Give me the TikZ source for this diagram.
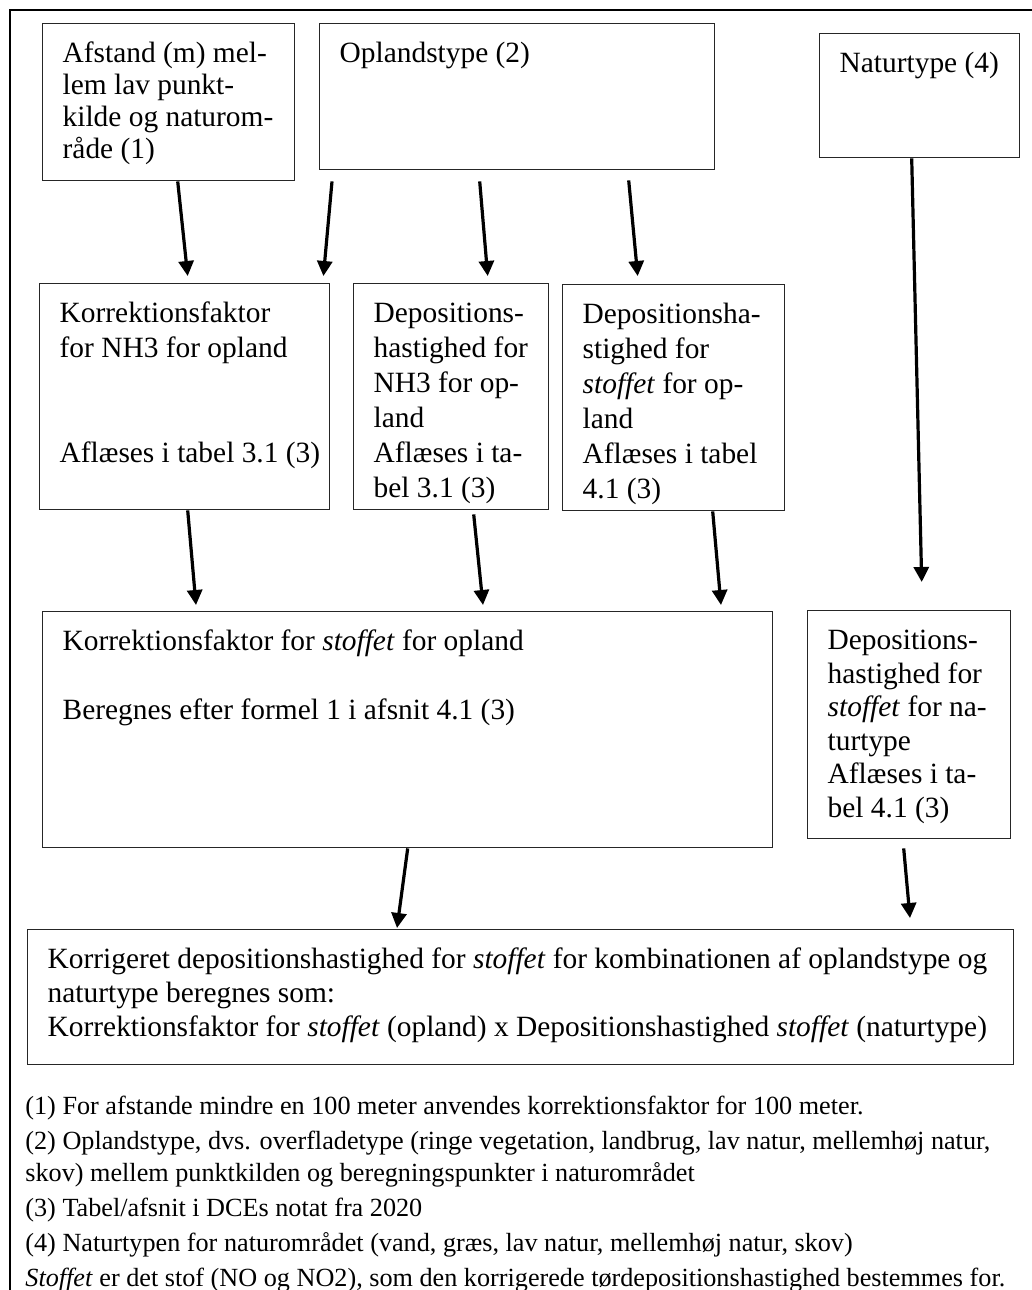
\documentclass[tikz,border=0pt]{standalone}
\usepackage{fontspec}
\setmainfont{Liberation Serif}
\usetikzlibrary{arrows.meta,calc}
\newdimen\px \px=0.5pt
\newcommand\boxtxt[4][17pt]{\parbox[t][#3\px][t]{#2\px}{\leftskip=20\px\rightskip=0pt plus 1fil
 \parfillskip=0pt plus 1fil\parindent=0pt\baselineskip=#1\relax\rule{0pt}{19.5pt}#4}}
\tikzset{flowbox/.style={draw=black!85,line width=0.7pt,inner sep=0pt,anchor=north west,
 font=\fontsize{14.7}{17}\selectfont},flowarrow/.style={line width=1.6pt,
 -{Triangle[length=7.5pt,width=7.5pt]}}}
\begin{document}
\begin{tikzpicture}[x=0.5pt,y=-0.5pt]
\useasboundingbox (0,0) rectangle (1032,1290);
\draw[line width=1pt] (10,10) rectangle (1045,1305);
\node[flowbox] (afst) at (42,23) {\boxtxt[16pt]{252}{157}{Afstand (m) mel-\\lem lav punkt-\\kilde og naturom-\\råde (1)}};
\node[flowbox] (opl) at (319,23) {\boxtxt[16pt]{395}{146}{Oplandstype (2)}};
\node[flowbox] (nat) at (819,33) {\boxtxt[16pt]{200}{124}{Naturtype (4)}};
\node[flowbox] (kfnh) at (39,283) {\boxtxt[17.5pt]{290}{226}{Korrektionsfaktor\\for NH3 for opland\\[2\baselineskip]Aflæses i tabel 3.1 (3)}};
\node[flowbox] (dpnh) at (353,283) {\boxtxt[17.5pt]{195}{226}{Depositions-\\hastighed for\\NH3 for op-\\land\\Aflæses i ta-\\bel 3.1 (3)}};
\node[flowbox] (dpst) at (562,284) {\boxtxt[17.5pt]{222}{226}{Depositionsha-\\stighed for\\\textit{stoffet} for op-\\land\\Aflæses i tabel\\4.1 (3)}};
\node[flowbox] (kfst) at (42,611) {\boxtxt[17.25pt]{730}{236}{Korrektionsfaktor for \textit{stoffet} for opland\\[\baselineskip]Beregnes efter formel 1 i afsnit 4.1 (3)}};
\node[flowbox] (dpnat) at (807,610) {\boxtxt[16.75pt]{203}{228}{Depositions-\\hastighed for\\\textit{stoffet} for na-\\turtype\\Aflæses i ta-\\bel 4.1 (3)}};
\node[flowbox] (res) at (27,929) {\boxtxt{986}{135}{Korrigeret depositionshastighed for \textit{stoffet} for kombinationen af oplandstype og\\naturtype beregnes som:\\Korrektionsfaktor for \textit{stoffet} (opland) x Depositionshastighed \textit{stoffet} (naturtype)}};
\node[anchor=base west,inner sep=0pt,font=\fontsize{13.1}{16}\selectfont] (notes) at (25,1114) {\parbox[t]{1012\px}{\raggedright\parskip=1.5pt
 (1) For afstande mindre en 100 meter anvendes korrektionsfaktor for 100 meter.\par
 (2) Oplandstype, dvs. overfladetype (ringe vegetation, landbrug, lav natur, mellemhøj natur,\\skov) mellem punktkilden og beregningspunkter i naturområdet\par
 (3) Tabel/afsnit i DCEs notat fra 2020\par
 (4) Naturtypen for naturområdet (vand, græs, lav natur, mellemhøj natur, skov)\par
 \textit{Stoffet} er det stof (NO og NO2), som den korrigerede tørdepositionshastighed bestemmes for.}};
\draw[flowarrow] ($(afst.south)+(9,0)$) -- ($(kfnh.north)+(3,-7)$);
\draw[flowarrow] ($(opl.south west)+(13,11)$) -- ($(kfnh.north east)+(-7,-7)$);
\draw[flowarrow] ($(opl.south)+(-37.5,11)$) -- ($(dpnh.north)+(36.5,-7)$);
\draw[flowarrow] ($(opl.south)+(111.5,10)$) -- ($(dpst.north)+(-36,-8)$);
\draw[flowarrow] ($(nat.south)+(-8,0)$) -- ($(dpnat.north)+(12.5,-28)$);
\draw[flowarrow] ($(kfnh.south)+(3,0)$) -- ($(kfst.north west)+(154,-6)$);
\draw[flowarrow] ($(dpnh.south)+(22.5,4)$) -- ($(kfst.north west)+(441,-6)$);
\draw[flowarrow] ($(dpst.south)+(39,0)$) -- ($(kfst.north west)+(679,-6)$);
\draw[flowarrow] (kfst.south) -- ($(res.north west)+(370,-1)$);
\draw[flowarrow] ($(dpnat.south)+(-5.5,9)$) -- ($(res.north west)+(883,-11)$);
\end{tikzpicture}
\end{document}
